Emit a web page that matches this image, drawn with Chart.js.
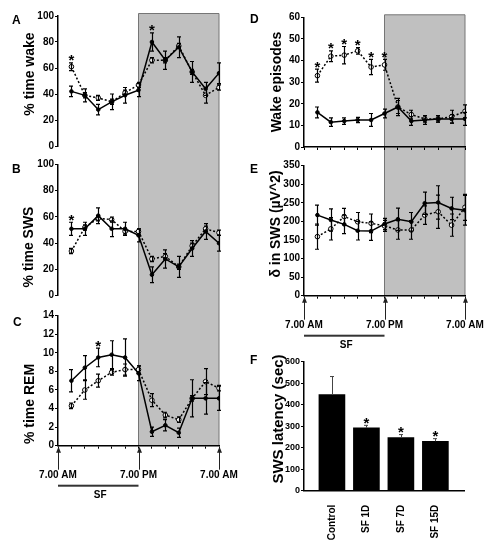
<!DOCTYPE html>
<html lang="en">
<head>
<meta charset="UTF-8">
<title>Sleep fragmentation panels</title>
<style>
    body {
        margin: 0;
        width: 493px;
        height: 543px;
        position: relative;
        overflow: hidden;
        background: #fff;
        font-family: 'Liberation Sans', Arial, sans-serif;
        color: #000;
    }
    canvas { position: absolute; }
    .panel {
        position: absolute;
        font-weight: bold;
        font-size: 12px;
        line-height: 12px;
    }
    .ttl {
        position: absolute;
        width: 140px;
        height: 16px;
        line-height: 16px;
        font-size: 14px;
        font-weight: bold;
        text-align: center;
        white-space: nowrap;
        transform: rotate(-90deg);
    }
</style>
</head>
<body>

<canvas id="chartA" width="232" height="155" style="left:0;top:0"></canvas>
<canvas id="chartB" width="232" height="150" style="left:0;top:155px"></canvas>
<canvas id="chartC" width="240" height="238" style="left:0;top:305px"></canvas>
<canvas id="chartD" width="225" height="155" style="left:250px;top:0"></canvas>
<canvas id="chartE" width="236" height="195" style="left:250px;top:155px"></canvas>
<canvas id="chartF" width="225" height="193" style="left:250px;top:350px"></canvas>

<div class="panel" style="left:12px;top:14px">A</div>
<div class="panel" style="left:12px;top:163px">B</div>
<div class="panel" style="left:13px;top:316px">C</div>
<div class="panel" style="left:250px;top:13px">D</div>
<div class="panel" style="left:250px;top:163px">E</div>
<div class="panel" style="left:250px;top:354px">F</div>

<div class="ttl" style="left:-41px;top:66px">% time wake</div>
<div class="ttl" style="left:-42px;top:239px">% time SWS</div>
<div class="ttl" style="left:-41px;top:396px">% time REM</div>
<div class="ttl" style="left:206px;top:74px">Wake episodes</div>
<div class="ttl" style="left:205px;top:216px">&delta; in SWS (&micro;V^2)</div>
<div class="ttl" style="left:208px;top:411px;font-size:15px">SWS latency (sec)</div>

<script src="https://cdn.jsdelivr.net/npm/chart.js"></script>
<script>
    // time axis: hours after 7.00 AM, one point per 2 h bin
    const hours = [2, 4, 6, 8, 10, 12, 14, 16, 18, 20, 22, 24];
    const clockHours = [0, 12, 24];
    const clockLabels = ['7.00 AM', '7.00 PM', '7.00 AM'];
    const darkPeriod = [12, 24];
    const sfPeriod = [0, 12];

    // A: % time wake
    const wakeCtl = [42, 39, 28, 34, 39, 43, 80, 66, 76, 57, 44, 56];
    const wakeCtlErr = [4, 5, 4, 6, 6, 5, 7, 7, 8, 8, 5, 8];
    const wakeSF = [61, 39, 37, 34, 41, 47, 66, 66, 77, 57, 39, 45];
    const wakeSFErr = [3, 2, 2, 2, 2, 2, 2, 2, 2, 2, 6, 2];

    // B: % time SWS
    const swsCtl = [51, 51, 61, 51, 51, 46, 16, 28, 22, 36, 49, 40];
    const swsCtlErr = [5, 5, 6, 6, 5, 5, 6, 7, 8, 6, 6, 6];
    const swsSF = [34, 52, 59, 58, 49, 49, 28, 30, 22, 38, 51, 48];
    const swsSFErr = [2, 2, 2, 2, 2, 2, 2, 2, 2, 2, 2, 2];

    // C: % time REM
    const remCtl = [7.0, 8.4, 9.5, 9.8, 9.5, 7.8, 1.5, 2.2, 1.4, 5.1, 5.1, 5.1];
    const remCtlErr = [1.2, 1.3, 1.0, 1.5, 2.0, 0.8, 0.5, 0.6, 0.5, 2.0, 1.7, 1.3];
    const remSF = [4.3, 6.0, 7.0, 7.9, 8.2, 8.2, 4.9, 3.3, 2.8, 5.1, 6.9, 6.2];
    const remSFErr = [0.3, 1.0, 0.7, 0.3, 0.6, 0.4, 0.7, 0.3, 0.3, 0.3, 1.4, 0.3];

    // D: wake episodes
    const epiCtl = [16, 11.5, 12, 12.5, 12.5, 15.5, 18.5, 12, 12.5, 13, 13, 13];
    const epiCtlErr = [2.5, 2, 1.5, 1.2, 3, 2, 4, 2, 2, 1.5, 2, 3];
    const epiSF = [33, 42, 42.5, 44.5, 37, 38, 18.5, 15, 13, 13, 14, 16.5];
    const epiSFErr = [3, 2.5, 4, 1.5, 3.5, 2.5, 3, 2, 1.5, 1.5, 3, 3];

    // E: delta power in SWS
    const deltaCtl = [217, 204, 192, 175, 174, 193, 206, 199, 249, 251, 235, 230];
    const deltaCtlErr = [27, 30, 25, 25, 25, 15, 30, 25, 30, 45, 30, 40];
    const deltaSF = [159, 180, 213, 199, 195, 188, 177, 177, 217, 226, 190, 238];
    const deltaSFErr = [34, 30, 22, 25, 25, 15, 25, 25, 25, 45, 30, 35];

    // F: SWS latency
    const latencyGroups = ['Control', 'SF 1D', 'SF 7D', 'SF 15D'];
    const latency = [447, 293, 247, 230];
    const latencyErr = [84, 11, 14, 12];
    const latencyStars = [1, 2, 3];

    const FONT = "'Liberation Sans', Arial, sans-serif";
    Chart.defaults.font.family = FONT;
    Chart.defaults.font.size = 10;
    Chart.defaults.font.weight = 'bold';
    Chart.defaults.color = '#000';

    // grey box for the dark period, joined across stacked panels
    function nightBox(topEdge, bottomEdge) {
        return {
            id: 'night',
            beforeDraw(chart) {
                const {ctx, chartArea, scales: {x}} = chart;
                const x0 = x.getPixelForValue(darkPeriod[0]);
                const x1 = x.getPixelForValue(darkPeriod[1]);
                const y0 = topEdge ? chartArea.top - 2.5 : 0;
                const y1 = bottomEdge ? chartArea.bottom : chart.height;
                ctx.save();
                ctx.fillStyle = '#c0c0c0';
                ctx.fillRect(x0, y0, x1 - x0, y1 - y0);
                ctx.strokeStyle = '#767676';
                ctx.lineWidth = 1;
                ctx.beginPath();
                ctx.moveTo(x0, y1);
                ctx.lineTo(x0, y0);
                if (topEdge) ctx.lineTo(x1, y0); else ctx.moveTo(x1, y0);
                ctx.lineTo(x1, y1);
                ctx.stroke();
                ctx.restore();
            }
        };
    }

    function drawStar(ctx, px, py) {
        ctx.font = 'bold 15px ' + FONT;
        ctx.textAlign = 'center';
        ctx.textBaseline = 'alphabetic';
        ctx.fillStyle = '#000';
        ctx.fillText('*', px, py + 8.5);
    }

    // error bars and significance stars, read from dataset.err / dataset.stars
    const errPlugin = {
        id: 'errs',
        afterDatasetsDraw(chart) {
            const {ctx, scales: {x, y}} = chart;
            ctx.save();
            chart.data.datasets.forEach(ds => {
                if (!ds.err) return;
                ctx.strokeStyle = ds.errColor || '#000';
                ctx.lineWidth = ds.errWidth || 1.2;
                ds.data.forEach((p, i) => {
                    const px = Math.round(x.getPixelForValue(p.x)) + 0.5;
                    const top = y.getPixelForValue(p.y + ds.err[i]);
                    const bot = ds.upOnly ? y.getPixelForValue(p.y) : y.getPixelForValue(p.y - ds.err[i]);
                    ctx.beginPath();
                    ctx.moveTo(px, top);
                    ctx.lineTo(px, bot);
                    ctx.moveTo(px - 2.5, top);
                    ctx.lineTo(px + 1.5, top);
                    if (!ds.upOnly) {
                        ctx.moveTo(px - 2.5, bot);
                        ctx.lineTo(px + 1.5, bot);
                    }
                    ctx.stroke();
                });
                (ds.stars || []).forEach(i => {
                    const p = ds.data[i];
                    drawStar(ctx, x.getPixelForValue(p.x), y.getPixelForValue(p.y + ds.err[i]) - 6);
                });
            });
            ctx.restore();
        }
    };

    // arrows at clock times and the SF bar under the time axis
    const clockMarks = {
        id: 'clockMarks',
        afterDraw(chart) {
            const {ctx, chartArea, scales: {x}} = chart;
            const b = chartArea.bottom;
            ctx.save();
            ctx.strokeStyle = '#222';
            ctx.fillStyle = '#222';
            ctx.lineWidth = 1;
            clockHours.forEach(h => {
                const px = Math.round(x.getPixelForValue(h)) + 0.5;
                ctx.beginPath();
                ctx.moveTo(px, b + 5);
                ctx.lineTo(px, b + 24);
                ctx.stroke();
                ctx.beginPath();
                ctx.moveTo(px, b + 1);
                ctx.lineTo(px - 2.5, b + 7);
                ctx.lineTo(px + 2.5, b + 7);
                ctx.closePath();
                ctx.fill();
            });
            const s0 = x.getPixelForValue(sfPeriod[0]);
            const s1 = x.getPixelForValue(sfPeriod[1]);
            ctx.fillStyle = '#333';
            ctx.fillRect(s0, b + 39, s1 - s0, 2);
            ctx.fillStyle = '#000';
            ctx.font = 'bold 10px ' + FONT;
            ctx.textAlign = 'center';
            ctx.textBaseline = 'middle';
            ctx.fillText('SF', (s0 + s1) / 2 + 2, b + 50);
            ctx.restore();
        }
    };

    function pts(vals) {
        return hours.map((h, i) => ({x: h, y: vals[i]}));
    }

    // fixed box sizes so every plot area lands where the original has it
    function fixHeight(h) {
        return s => {
            s.height = h;
            s.paddingLeft = 0;
            s.paddingRight = 0;
        };
    }

    function yAxis(max, step, width, fontSize) {
        return {
            min: 0,
            max: max,
            ticks: {stepSize: step, padding: 1, font: {size: fontSize || 10, weight: 'bold'}},
            grid: {display: true, drawOnChartArea: false, tickLength: 3, color: '#000', tickColor: '#000'},
            border: {display: true, color: '#000', width: 1.5},
            afterFit: s => { s.width = width; }
        };
    }

    function timeChart(id, c) {
        const showX = c.xMode !== 'none';
        return new Chart(document.getElementById(id), {
            type: 'line',
            data: {
                datasets: [
                    {
                        data: pts(c.ctl), err: c.ctlErr, stars: c.ctlStars,
                        borderColor: '#000', borderWidth: 1.5,
                        pointRadius: 1.8, pointBorderWidth: 1,
                        pointBackgroundColor: '#000', pointBorderColor: '#000',
                        tension: 0
                    },
                    {
                        data: pts(c.sf), err: c.sfErr, stars: c.sfStars,
                        borderColor: '#000', borderWidth: 1.5, borderDash: [2, 2],
                        pointRadius: 2.3, pointBackgroundColor: '#fff', pointBorderColor: '#000',
                        pointBorderWidth: 1, tension: 0
                    }
                ]
            },
            options: {
                responsive: false,
                animation: false,
                events: [],
                layout: {padding: c.pad},
                plugins: {legend: {display: false}, tooltip: {enabled: false}},
                scales: {
                    x: {
                        type: 'linear',
                        display: showX,
                        min: 0,
                        max: 24,
                        ticks: {
                            stepSize: 2,
                            autoSkip: false,
                            maxRotation: 0,
                            padding: 21,
                            callback: v => {
                                const k = clockHours.indexOf(v);
                                return (c.xMode === 'clock' && k >= 0) ? clockLabels[k] : '';
                            }
                        },
                        grid: {display: true, drawOnChartArea: false, tickLength: 3, color: '#000', tickColor: '#000'},
                        border: {display: true, color: '#000', width: 1.5},
                        afterFit: fixHeight(c.xHeight || 0)
                    },
                    y: yAxis(c.max, c.step, c.yWidth)
                }
            },
            plugins: [nightBox(c.boxTop, c.boxBottom), errPlugin].concat(c.xMode === 'clock' ? [clockMarks] : [])
        });
    }

    timeChart('chartA', {
        ctl: wakeCtl, ctlErr: wakeCtlErr, ctlStars: [6],
        sf: wakeSF, sfErr: wakeSFErr, sfStars: [0],
        max: 100, step: 20, yWidth: 58, xMode: 'none',
        pad: {top: 16, right: 13, bottom: 9, left: 0},
        boxTop: true, boxBottom: false
    });

    timeChart('chartB', {
        ctl: swsCtl, ctlErr: swsCtlErr, ctlStars: [0],
        sf: swsSF, sfErr: swsSFErr, sfStars: [],
        max: 100, step: 20, yWidth: 58, xMode: 'none',
        pad: {top: 9.5, right: 13, bottom: 9.3, left: 0},
        boxTop: false, boxBottom: false
    });

    timeChart('chartC', {
        ctl: remCtl, ctlErr: remCtlErr, ctlStars: [2],
        sf: remSF, sfErr: remSFErr, sfStars: [],
        max: 14, step: 2, yWidth: 58, xMode: 'clock', xHeight: 97.3,
        pad: {top: 10.7, right: 21, bottom: 0, left: 0},
        boxTop: false, boxBottom: true
    });

    timeChart('chartD', {
        ctl: epiCtl, ctlErr: epiCtlErr, ctlStars: [],
        sf: epiSF, sfErr: epiSFErr, sfStars: [0, 1, 2, 3, 4, 5],
        max: 60, step: 10, yWidth: 54, xMode: 'ticks', xHeight: 8,
        pad: {top: 17.3, right: 10, bottom: 0, left: 0},
        boxTop: true, boxBottom: false
    });

    timeChart('chartE', {
        ctl: deltaCtl, ctlErr: deltaCtlErr, ctlStars: [],
        sf: deltaSF, sfErr: deltaSFErr, sfStars: [],
        max: 350, step: 50, yWidth: 54, xMode: 'clock', xHeight: 54.3,
        pad: {top: 10.7, right: 21, bottom: 0, left: 0},
        boxTop: false, boxBottom: true
    });

    // F: bar chart on a linear index axis so the bars sit where the original has them
    new Chart(document.getElementById('chartF'), {
        type: 'bar',
        data: {
            datasets: [{
                data: latency.map((v, i) => ({x: i + 1, y: v})),
                err: latencyErr, stars: latencyStars, upOnly: true,
                errColor: '#444', errWidth: 1,
                backgroundColor: '#000',
                barThickness: 26
            }]
        },
        options: {
            responsive: false,
            animation: false,
            events: [],
            layout: {padding: {top: 11.7, right: 11, bottom: 0, left: 0}},
            plugins: {legend: {display: false}, tooltip: {enabled: false}},
            scales: {
                x: {
                    type: 'linear',
                    offset: false,
                    bounds: 'ticks',
                    min: 0.19,
                    max: 4.83,
                    afterBuildTicks: s => { s.ticks = latencyGroups.map((g, i) => ({value: i + 1})); },
                    ticks: {
                        autoSkip: false,
                        minRotation: 90,
                        maxRotation: 90,
                        padding: 6,
                        callback: v => latencyGroups[v - 1]
                    },
                    grid: {display: false, offset: false},
                    border: {display: true, color: '#000', width: 1.5},
                    afterFit: fixHeight(52.3)
                },
                y: yAxis(600, 100, 54, 9)
            }
        },
        plugins: [errPlugin]
    });
</script>
</body>
</html>
